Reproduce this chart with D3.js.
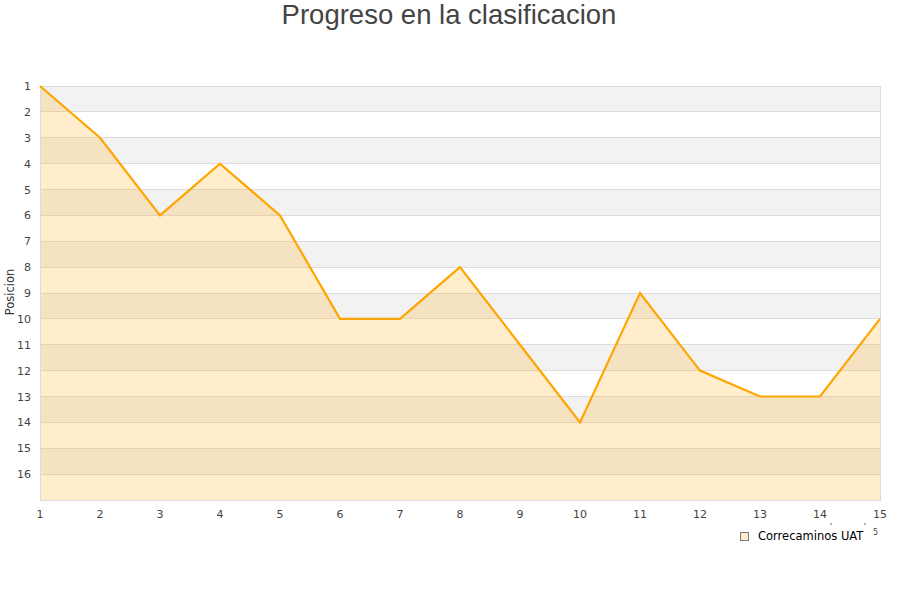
<!DOCTYPE html>
<html><head><meta charset="utf-8">
<script src="https://cdn.jsdelivr.net/npm/d3@7"></script>
<style>body{margin:0;background:#fff}svg{display:block}</style>
</head><body>
<svg id="c" width="900" height="600"></svg>
<script>
const title = "Progreso en la clasificacion";
const seriesName = "Correcaminos UAT";
const yTitle = "Posicion";
const rounds = [1,2,3,4,5,6,7,8,9,10,11,12,13,14,15];
const positions = [1,3,6,4,6,10,10,8,11,14,9,12,13,13,10];
const yTicks = [1,2,3,4,5,6,7,8,9,10,11,12,13,14,15,16];

const svg = d3.select("#c");
const L=40,R=880,T=86,B=500;
const x = d3.scaleLinear().domain([1,15]).range([L,R]);
const y = d3.scaleLinear().domain([1,17]).range([T,B]);
const font = "DejaVu Sans, Verdana, sans-serif";

// alternating bands
const bands = yTicks.filter(v=>v%2===1);
svg.append("g").selectAll("rect").data(bands).join("rect")
  .attr("x",L).attr("width",R-L)
  .attr("y",d=>y(d)).attr("height",d=>y(d+1)-y(d))
  .attr("fill","#f2f2f2");

// grid lines
svg.append("g").selectAll("line").data(yTicks).join("line")
  .attr("x1",L).attr("x2",R).attr("y1",d=>y(d)).attr("y2",d=>y(d))
  .attr("stroke","#dddddd").attr("stroke-width",1).attr("shape-rendering","crispEdges");

// area
const area = d3.area().x((d,i)=>x(rounds[i])).y0(y(17)).y1(d=>y(d));
svg.append("path").datum(positions).attr("d",area)
  .attr("fill","rgba(255,165,0,0.2)");

// frame
svg.append("rect").attr("x",L).attr("y",T).attr("width",R-L).attr("height",B-T)
  .attr("fill","none").attr("stroke","#dcdcdc").attr("shape-rendering","crispEdges");

// line
const line = d3.line().x((d,i)=>x(rounds[i])).y(d=>y(d));
svg.append("path").datum(positions).attr("d",line)
  .attr("fill","none").attr("stroke","#ffa500").attr("stroke-width",2.2).attr("stroke-linejoin","miter");

// y axis labels
svg.append("g").selectAll("text").data(yTicks).join("text")
  .attr("x",31).attr("y",d=>y(d)+4).attr("text-anchor","end")
  .attr("font-family",font).attr("font-size",11).attr("fill","#444").text(d=>d);

// x axis labels
svg.append("g").selectAll("text").data(rounds).join("text")
  .attr("x",d=>x(d)).attr("y",518).attr("text-anchor","middle")
  .attr("font-family",font).attr("font-size",11).attr("fill","#444").text(d=>d);

// y title
svg.append("text").attr("transform","translate(14,292) rotate(-90)")
  .attr("text-anchor","middle").attr("font-family",font).attr("font-size",11.5)
  .attr("fill","#333").text(yTitle);

// title
svg.append("text").attr("x",449).attr("y",24).attr("text-anchor","middle")
  .attr("font-family","Liberation Sans, Arial, sans-serif").attr("font-size",27.5)
  .attr("fill","#444").text(title);

// legend
svg.append("rect").attr("x",740.5).attr("y",532.5).attr("width",8).attr("height",8)
  .attr("fill","#ffedcc").attr("stroke","#777");
svg.append("text").attr("x",758).attr("y",540).attr("font-family",font).attr("font-size",11.5)
  .attr("fill","#000").text(seriesName);
svg.append("text").attr("x",873).attr("y",535).attr("font-family",font).attr("font-size",8)
  .attr("fill","#444").text("5");
svg.append("g").selectAll("rect.dot").data([830.5,864.5]).join("rect")
  .attr("x",d=>d).attr("y",523).attr("width",1).attr("height",2).attr("fill","#666");
</script>
</body></html>
